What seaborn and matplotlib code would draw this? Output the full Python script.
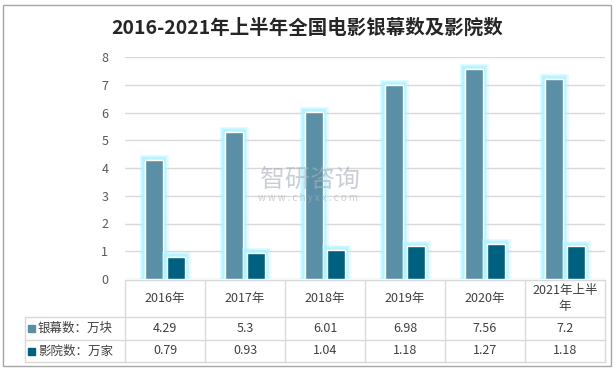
import numpy as np
import pandas as pd
import matplotlib
matplotlib.use('Agg')
import matplotlib.pyplot as plt
import matplotlib.patheffects as pe
from matplotlib.lines import Line2D
from matplotlib.patches import Rectangle
import seaborn as sns

# 数据
years = ['2016年', '2017年', '2018年', '2019年', '2020年', '2021年上半年']
header_labels = ['2016年', '2017年', '2018年', '2019年', '2020年', '2021年上半\n年']
screens = [4.29, 5.3, 6.01, 6.98, 7.56, 7.2]
cinemas = [0.79, 0.93, 1.04, 1.18, 1.27, 1.18]
series_names = ['银幕数：万块', '影院数：万家']
colors = ['#5b8fa6', '#00607f']

df = pd.DataFrame({
    'year': years * 2,
    'value': screens + cinemas,
    'series': [series_names[0]] * len(years) + [series_names[1]] * len(years),
})

sns.set_style('white')
plt.rcParams['font.family'] = ['Noto Sans CJK SC', 'DejaVu Sans']

W, H = 615, 374
fig = plt.figure(figsize=(W / 100, H / 100), dpi=100)


def fx(x):
    return x / W


def fy(y):
    return 1 - y / H


# 绘图区
ax_l, ax_r, ax_t, ax_b = 125, 605, 57, 279
ax = fig.add_axes([fx(ax_l), fy(ax_b), fx(ax_r - ax_l), (ax_b - ax_t) / H])
sns.barplot(data=df, x='year', y='value', hue='series', palette=colors,
            width=0.53, gap=0.15, ax=ax, legend=False, saturation=1)
glow = [pe.withStroke(linewidth=8, foreground='#aef3ff', alpha=0.25),
        pe.withStroke(linewidth=6, foreground='#aef3ff', alpha=0.45),
        pe.withStroke(linewidth=4, foreground='#aef3ff', alpha=0.8),
        pe.Normal()]
for p in ax.patches:
    p.set_path_effects(glow)
ax.set_ylim(0, 8)
ax.set_yticks(range(0, 9))
ax.set_xlim(-0.5, len(years) - 0.5)
ax.yaxis.grid(True, color='#d9d9d9', linewidth=1)
ax.set_axisbelow(True)
for s in ax.spines.values():
    s.set_visible(False)
ax.set_xlabel('')
ax.set_ylabel('')
ax.set_xticks([])
ax.tick_params(axis='y', length=0, labelsize=9, labelcolor='#595959', pad=12)

# 标题
fig.text(fx(307), fy(28), '2016-2021年上半年全国电影银幕数及影院数', ha='center', va='center',
         fontsize=14, fontweight='bold', color='#262626')

# 水印
fig.text(fx(310), fy(180), '智研咨询', ha='center', va='center', fontsize=18,
         color='#a9b0ba', alpha=0.6)
fig.text(fx(308), fy(198), 'w w w . c h y x x . c o m', ha='center', va='center',
         fontsize=7, color='#a9b0ba', alpha=0.6)

# 数据表
cols = np.linspace(ax_l, ax_r, len(years) + 1)
t_top, r1, r2, r3 = 280, 317, 340, 362
line_c = '#d9d9d9'
fig.add_artist(Line2D([fx(ax_l), fx(ax_r)], [fy(t_top), fy(t_top)], color=line_c, lw=1))
for yy in (r1, r2, r3):
    fig.add_artist(Line2D([fx(25), fx(ax_r)], [fy(yy), fy(yy)], color=line_c, lw=1))
for xx in cols:
    fig.add_artist(Line2D([fx(xx), fx(xx)], [fy(t_top), fy(r3)], color=line_c, lw=1))
fig.add_artist(Line2D([fx(25), fx(25)], [fy(r1), fy(r3)], color=line_c, lw=1))

for i, lab in enumerate(header_labels):
    cx = (cols[i] + cols[i + 1]) / 2
    fig.text(fx(cx), fy((t_top + r1) / 2), lab, ha='center', va='center',
             fontsize=9, color='#404040', linespacing=1.3)

for r, (name, vals, col) in enumerate(zip(series_names, [screens, cinemas], colors)):
    ytop = [r1, r2][r]
    ybot = [r2, r3][r]
    cy = (ytop + ybot) / 2
    fig.add_artist(Rectangle((fx(28), fy(cy + 3.5)), fx(7), 7 / H, color=col,
                             transform=fig.transFigure))
    fig.text(fx(38), fy(cy), name, ha='left', va='center', fontsize=9, color='#404040')
    for i, v in enumerate(vals):
        cx = (cols[i] + cols[i + 1]) / 2
        fig.text(fx(cx), fy(cy), f'{v:g}', ha='center', va='center',
                 fontsize=9, color='#404040')

# 外框
fig.add_artist(Rectangle((fx(3), fy(366)), fx(608), 361 / H, fill=False,
                         edgecolor='#a6a6a6', lw=1, transform=fig.transFigure))

fig.savefig('out.png', dpi=100)
